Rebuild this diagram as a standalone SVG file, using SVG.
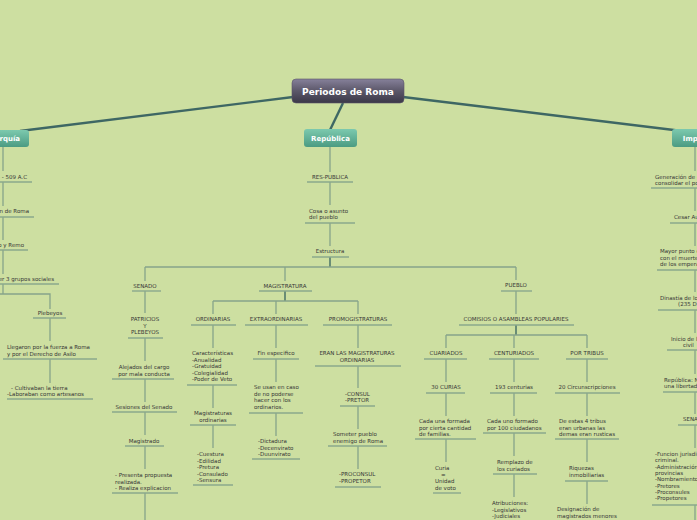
<svg xmlns="http://www.w3.org/2000/svg" width="697" height="520" viewBox="0 0 697 520">
<defs>
<linearGradient id="gTitle" x1="0" y1="0" x2="0" y2="1"><stop offset="0" stop-color="#86819a"/><stop offset="0.5" stop-color="#5b5769"/><stop offset="1" stop-color="#3b3848"/></linearGradient>
<linearGradient id="gMain" x1="0" y1="0" x2="0" y2="1"><stop offset="0" stop-color="#7cc9ae"/><stop offset="1" stop-color="#4b9b82"/></linearGradient>
</defs>
<style>
.t{font-family:"DejaVu Sans",Verdana,sans-serif;font-size:5.5px;fill:#363636}
.m{text-anchor:middle}
.e{text-anchor:end}
.u{stroke:#8aa88d;stroke-width:1.4;fill:none}
.c{stroke:#86a48a;stroke-width:1.3;fill:none}
.d{stroke:#3f6a63;stroke-width:1.4;fill:none}
.big{stroke:#3e6764;stroke-width:2.4;fill:none}
.lbl{font-family:"DejaVu Sans",Verdana,sans-serif;font-weight:bold;fill:#fff;text-anchor:middle}
</style>
<rect width="697" height="520" fill="#cddfa1"/>
<g id="connectors">
<line class="big" x1="293" y1="97" x2="20" y2="131"/>
<line class="big" x1="403" y1="97" x2="682" y2="131"/>
<line class="big" x1="343" y1="103" x2="330" y2="130" stroke-width="2"/>
<path class="c" d="M3 147V171M3 182V206M3 217V240M3 250V274M3 284V294M-40 294H50V309M50 318V341M50 359V383"/>
<path class="c" d="M330 147V172M330 182V205M330 223V246"/>
<path class="d" d="M330 257V267"/>
<path class="c" d="M145 267H516M145 267V281M145 291V313M145 338V361M145 379V402M145 412V435M145 446V469M145 493V520"/>
<path class="c" d="M285 267V281"/>
<path class="d" d="M285 291V301"/>
<path class="c" d="M213 301H358M213 301V314M213 325V348M213 385V408M213 425V448M276 301V314M276 325V348M276 359V382M276 413V436M358 301V314M358 325V348M358 366V388M358 406V429M358 446V469"/>
<path class="c" d="M516 267V280M516 291V314"/>
<path class="d" d="M516 325V335"/>
<path class="c" d="M446 335H587M446 335V348M446 359V382M446 393V416M446 439V462M514 335V348M514 359V382M514 393V416M514 433V456M514 474V497M587 335V348M587 359V382M587 393V416M587 439V462M587 481V504"/>
<path class="c" d="M695 147V171M695 188V211M695 223V246M695 270V292M695 310V333M695 350V374M695 392V414M695 425V448M695 505V520"/>
</g>
<g id="title">
<rect x="292" y="79" width="112" height="24" rx="4" fill="url(#gTitle)" stroke="#5a566a" stroke-width="0.6"/>
<text class="lbl" x="348" y="95.2" font-size="9">Periodos de Roma</text>
</g>
<g id="monarquia">
<rect x="-32" y="130" width="61" height="17" rx="3" fill="url(#gMain)"/>
<text class="lbl" x="-1" y="141" font-size="7">Monarquía</text>
</g>
<g id="republica">
<rect x="304" y="129" width="53" height="18" rx="3" fill="url(#gMain)"/>
<text class="lbl" x="330.5" y="140.5" font-size="7">República</text>
</g>
<g id="imperio">
<rect x="672" y="129" width="52" height="18" rx="3" fill="url(#gMain)"/>
<text class="lbl" x="698" y="140.5" font-size="7">Imperio</text>
</g>
<g id="m1"><text class="t e" x="27" y="179">753 - 509 A.C</text><line class="u" x1="-30" y1="182" x2="32" y2="182"/></g>
<g id="m2"><text class="t e" x="29" y="213">Fundación de Roma</text><line class="u" x1="-40" y1="217" x2="34" y2="217"/></g>
<g id="m3"><text class="t e" x="24" y="247">Rómulo y Remo</text><line class="u" x1="-30" y1="250" x2="28" y2="250"/></g>
<g id="m4"><text class="t e" x="54" y="281">Tener 3 grupos sociales</text><line class="u" x1="-50" y1="284" x2="59" y2="284"/></g>
<g id="m5"><text class="t m" x="50" y="315">Plebeyos</text><line class="u" x1="33" y1="318" x2="66" y2="318"/></g>
<g id="m6"><text class="t" x="7" y="349">Llegaron por la fuerza a Roma<tspan x="7" dy="6.6">y por el Derecho de Asilo</tspan></text><line class="u" x1="3" y1="359" x2="97" y2="359"/></g>
<g id="m7"><text class="t" x="11" y="390">- Cultivaban la tierra<tspan x="7" dy="6.3">-Laboraban como artesanos</tspan></text><line class="u" x1="7" y1="399" x2="93" y2="399"/></g>
<g id="r1"><text class="t m" x="330" y="179">RES-PUBLICA</text><line class="u" x1="307" y1="182" x2="353" y2="182"/></g>
<g id="r2"><text class="t" x="309" y="213">Cosa o asunto<tspan x="309" dy="6.3">del pueblo</tspan></text><line class="u" x1="305" y1="223" x2="355" y2="223"/></g>
<g id="r3"><text class="t m" x="330" y="253">Estructura</text><line class="u" x1="312" y1="257" x2="349" y2="257"/></g>
<g id="s1"><text class="t m" x="145" y="288">SENADO</text><line class="u" x1="132" y1="291" x2="161" y2="291"/></g>
<g id="s2"><text class="t m" x="145" y="321">PATRICIOS<tspan x="145" dy="6.5">Y</tspan><tspan x="145" dy="6.5">PLEBEYOS</tspan></text><line class="u" x1="128" y1="338" x2="163" y2="338"/></g>
<g id="s3"><text class="t m" x="144" y="369">Alejados del cargo<tspan x="144" dy="6.5">por mala conducta</tspan></text><line class="u" x1="112" y1="379" x2="174" y2="379"/></g>
<g id="s4"><text class="t m" x="144" y="409">Sesiones del Senado</text><line class="u" x1="112" y1="412" x2="177" y2="412"/></g>
<g id="s5"><text class="t m" x="144" y="443">Magistrado</text><line class="u" x1="125" y1="446" x2="164" y2="446"/></g>
<g id="s6"><text class="t" x="115" y="477">- Presenta propuesta<tspan x="115" dy="6.5">realizada.</tspan><tspan x="115" dy="6.5">- Realiza explicacion</tspan></text><line class="u" x1="112" y1="493" x2="178" y2="493"/></g>
<g id="g1"><text class="t m" x="285" y="288">MAGISTRATURA</text><line class="u" x1="259" y1="291" x2="312" y2="291"/></g>
<g id="o1"><text class="t m" x="213" y="321">ORDINARIAS</text><line class="u" x1="191" y1="325" x2="236" y2="325"/></g>
<g id="o2"><text class="t" x="192" y="355">Características<tspan x="192" dy="6.5">-Anualidad</tspan><tspan x="192" dy="6.5">-Gratuidad</tspan><tspan x="192" dy="6.5">-Colegialidad</tspan><tspan x="192" dy="6.5">-Poder de Veto</tspan></text><line class="u" x1="187" y1="385" x2="237" y2="385"/></g>
<g id="o3"><text class="t m" x="213" y="415">Magistraturas<tspan x="213" dy="6.8">ordinarias</tspan></text><line class="u" x1="190" y1="425" x2="236" y2="425"/></g>
<g id="o4"><text class="t" x="197" y="456">-Cuestura<tspan x="197" dy="6.5">-Edilidad</tspan><tspan x="197" dy="6.5">-Pretura</tspan><tspan x="197" dy="6.5">-Consulado</tspan><tspan x="197" dy="6.5">-Sensura</tspan></text><line class="u" x1="193" y1="485" x2="233" y2="485"/></g>
<g id="x1"><text class="t m" x="276" y="321">EXTRAORDINARIAS</text><line class="u" x1="245" y1="325" x2="308" y2="325"/></g>
<g id="x2"><text class="t m" x="276" y="355">Fin especifico</text><line class="u" x1="253" y1="359" x2="299" y2="359"/></g>
<g id="x3"><text class="t" x="254" y="389">Se usan en caso<tspan x="254" dy="6.6">de no poderse</tspan><tspan x="254" dy="6.6">hacer con los</tspan><tspan x="254" dy="6.6">ordinarios.</tspan></text><line class="u" x1="249" y1="413" x2="303" y2="413"/></g>
<g id="x4"><text class="t" x="258" y="443">-Dictadura<tspan x="258" dy="6.5">-Decenvirato</tspan><tspan x="258" dy="6.5">-Duunvirato</tspan></text><line class="u" x1="252" y1="459" x2="300" y2="459"/></g>
<g id="p1"><text class="t m" x="358" y="321">PROMOGISTRATURAS</text><line class="u" x1="323" y1="325" x2="392" y2="325"/></g>
<g id="p2"><text class="t m" x="357" y="355">ERAN LAS MAGISTRATURAS<tspan x="357" dy="6.8">ORDINARIAS</tspan></text><line class="u" x1="315" y1="366" x2="401" y2="366"/></g>
<g id="p3"><text class="t" x="345" y="396">-CONSUL<tspan x="345" dy="6.3">-PRETOR</tspan></text><line class="u" x1="340" y1="406" x2="375" y2="406"/></g>
<g id="p4"><text class="t" x="333" y="436">Someter pueblo<tspan x="333" dy="6.8">enemigo de Roma</tspan></text><line class="u" x1="328" y1="446" x2="387" y2="446"/></g>
<g id="p5"><text class="t" x="339" y="476">-PROCONSUL<tspan x="339" dy="6.8">-PROPETOR</tspan></text><line class="u" x1="335" y1="487" x2="381" y2="487"/></g>
<g id="q1"><text class="t m" x="516" y="287">PUEBLO</text><line class="u" x1="501" y1="291" x2="532" y2="291"/></g>
<g id="q2"><text class="t m" x="516" y="321">COMISIOS O ASAMBLEAS POPULARIES</text><line class="u" x1="459" y1="325" x2="574" y2="325"/></g>
<g id="c1"><text class="t m" x="446" y="355">CUARIADOS</text><line class="u" x1="424" y1="359" x2="467" y2="359"/></g>
<g id="c2"><text class="t m" x="446" y="389">30 CURIAS</text><line class="u" x1="426" y1="393" x2="465" y2="393"/></g>
<g id="c3"><text class="t" x="419" y="423">Cada una formada<tspan x="419" dy="6.6">por cierta cantidad</tspan><tspan x="419" dy="6.6">de familias.</tspan></text><line class="u" x1="415" y1="439" x2="476" y2="439"/></g>
<g id="c4"><text class="t" x="435" y="470">Curia<tspan x="441" dy="6.6">=</tspan><tspan x="435" dy="6.6">Unidad</tspan><tspan x="435" dy="6.6">de voto</tspan></text><line class="u" x1="433" y1="493" x2="461" y2="493"/></g>
<g id="n1"><text class="t m" x="514" y="355">CENTURIADOS</text><line class="u" x1="489" y1="359" x2="539" y2="359"/></g>
<g id="n2"><text class="t m" x="514" y="389">193 centurias</text><line class="u" x1="490" y1="393" x2="537" y2="393"/></g>
<g id="n3"><text class="t" x="487" y="423">Cada uno formado<tspan x="487" dy="7">por 100 ciudadanos</tspan></text><line class="u" x1="483" y1="433" x2="546" y2="433"/></g>
<g id="n4"><text class="t" x="497" y="464">Remplazo de<tspan x="497" dy="6.6">los curiados</tspan></text><line class="u" x1="493" y1="474" x2="537" y2="474"/></g>
<g id="n5"><text class="t" x="492" y="505">Atribuciones:<tspan x="492" dy="6.6">-Legislativos</tspan><tspan x="492" dy="6.6">-Judiciales</tspan></text></g>
<g id="b1"><text class="t m" x="587" y="355">POR TRIBUS</text><line class="u" x1="566" y1="359" x2="608" y2="359"/></g>
<g id="b2"><text class="t m" x="587" y="389">20 Circunscripciones</text><line class="u" x1="555" y1="393" x2="620" y2="393"/></g>
<g id="b3"><text class="t" x="559" y="423">De estas 4 tribus<tspan x="559" dy="6.6">eran urbanas las</tspan><tspan x="559" dy="6.6">demas eran rusticas</tspan></text><line class="u" x1="555" y1="439" x2="619" y2="439"/></g>
<g id="b4"><text class="t" x="569" y="470">Riquezas<tspan x="569" dy="6.8">inmobiliarias</tspan></text><line class="u" x1="565" y1="481" x2="608" y2="481"/></g>
<g id="b5"><text class="t" x="557" y="511">Designación de<tspan x="557" dy="6.6">magistrados menores</tspan></text></g>
<g id="i1"><text class="t" x="655" y="179">Generación de guerras para<tspan x="655" dy="6.3">consolidar el poder</tspan></text><line class="u" x1="651" y1="188" x2="740" y2="188"/></g>
<g id="i2"><text class="t" x="674" y="219">Cesar Augusto</text><line class="u" x1="670" y1="223" x2="740" y2="223"/></g>
<g id="i3"><text class="t" x="660" y="253">Mayor punto de crisis<tspan x="660" dy="6.5">con el muerte de</tspan><tspan x="660" dy="6.5">de los emperadores</tspan></text><line class="u" x1="657" y1="270" x2="740" y2="270"/></g>
<g id="i4"><text class="t" x="660" y="300">Dinastía de los Severos<tspan x="678" dy="6.3">(235 D.C)</tspan></text><line class="u" x1="658" y1="310" x2="740" y2="310"/></g>
<g id="i5"><text class="t" x="671" y="341">Inicio de la guerra<tspan x="683" dy="6.3">civil</tspan></text><line class="u" x1="667" y1="350" x2="740" y2="350"/></g>
<g id="i6"><text class="t" x="664" y="382">República: No hay<tspan x="664" dy="6.3">una libertad</tspan></text><line class="u" x1="663" y1="392" x2="740" y2="392"/></g>
<g id="i7"><text class="t" x="683" y="421">SENADO</text><line class="u" x1="678" y1="425" x2="740" y2="425"/></g>
<g id="i8"><text class="t" x="655" y="456">-Funcion jurisdiccional<tspan x="655" dy="6.3">criminal.</tspan><tspan x="655" dy="6.3">-Administración de</tspan><tspan x="655" dy="6.3">provincias</tspan><tspan x="655" dy="6.3">-Nombramientos</tspan><tspan x="655" dy="6.3">-Pretores</tspan><tspan x="655" dy="6.3">-Proconsules</tspan><tspan x="655" dy="6.3">-Propetores</tspan></text><line class="u" x1="652" y1="505" x2="740" y2="505"/></g>
</svg>
